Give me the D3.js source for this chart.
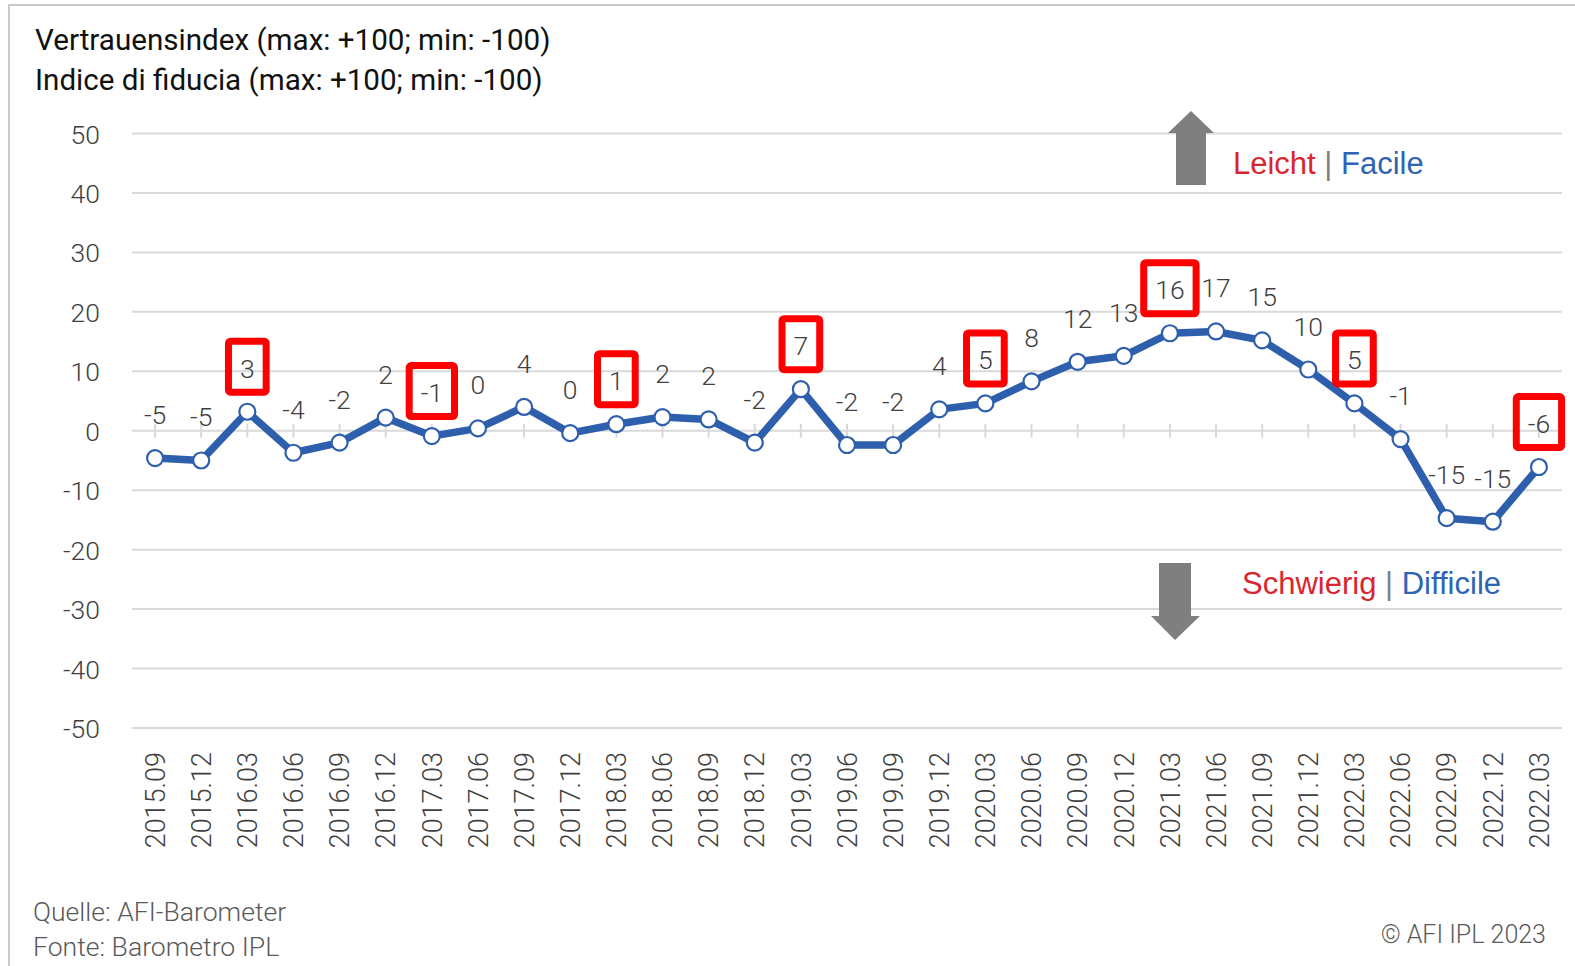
<!DOCTYPE html>
<html>
<head>
<meta charset="utf-8">
<script src="https://cdn.jsdelivr.net/npm/d3@7/dist/d3.min.js"></script>
<style>
  html, body { margin: 0; padding: 0; background: #fff; }
  svg { display: block; }
</style>
</head>
<body>
<svg id="chart" width="1575" height="966"></svg>
<script>
// ---- data ----
const categories = ["2015.09","2015.12","2016.03","2016.06","2016.09","2016.12","2017.03","2017.06","2017.09","2017.12",
  "2018.03","2018.06","2018.09","2018.12","2019.03","2019.06","2019.09","2019.12","2020.03","2020.06",
  "2020.09","2020.12","2021.03","2021.06","2021.09","2021.12","2022.03","2022.06","2022.09","2022.12","2022.03"];
const values = [-4.6, -5.0, 3.2, -3.7, -2.0, 2.2, -0.9, 0.4, 4.0, -0.4,
  1.1, 2.3, 1.9, -2.0, 7.0, -2.4, -2.4, 3.6, 4.6, 8.3,
  11.6, 12.6, 16.4, 16.7, 15.2, 10.3, 4.6, -1.4, -14.7, -15.3, -6.1];
const highlighted = [2, 6, 10, 14, 18, 22, 26, 30];
const yTicks = [50, 40, 30, 20, 10, 0, -10, -20, -30, -40, -50];
const titleLines = ["Vertrauensindex (max: +100; min: -100)", "Indice di fiducia (max: +100; min: -100)"];
const sourceLines = ["Quelle: AFI-Barometer", "Fonte: Barometro IPL"];
const copyright = "\u00A9 AFI IPL 2023";

(function () {
// ---- setup ----
const svg = d3.select("#chart");
const FONT = "Roboto, 'Noto Sans', sans-serif";
const pLeft = 132, pRight = 1562, pTop = 133.5, pBottom = 728;

const x = d3.scalePoint().domain(d3.range(categories.length)).range([pLeft, pRight]).padding(0.5);
const y = d3.scaleLinear().domain([-50, 50]).range([pBottom, pTop]);

// border
svg.append("rect").attr("x", 9).attr("y", 5).attr("width", 1600).attr("height", 1000)
  .attr("fill", "none").attr("stroke", "#c9c9c9").attr("stroke-width", 2);

// title
svg.append("g").selectAll("text").data(titleLines).join("text")
  .attr("x", 35).attr("y", (d, i) => 50 + i * 40)
  .attr("font-family", FONT).attr("font-size", 29.6).attr("fill", "#111")
  .text(d => d);

// gridlines
svg.append("g").selectAll("line").data(yTicks).join("line")
  .attr("x1", pLeft).attr("x2", pRight)
  .attr("y1", d => y(d)).attr("y2", d => y(d))
  .attr("stroke", "#d9d9d9").attr("stroke-width", 2);

// y axis labels
const yAxis = d3.axisLeft(y).tickValues(yTicks).tickSize(0).tickPadding(0).tickFormat(d => String(d));
const yg = svg.append("g").attr("transform", "translate(100,0)").call(yAxis);
yg.select(".domain").remove();
yg.selectAll("text").attr("font-family", FONT).attr("font-size", 26.5).attr("font-weight", 300)
  .attr("fill", "#404040").attr("dy", "0.36em");

// zero-line cross ticks
svg.append("g").selectAll("line").data(d3.range(categories.length)).join("line")
  .attr("x1", i => x(i)).attr("x2", i => x(i))
  .attr("y1", y(0) - 7).attr("y2", y(0) + 7)
  .attr("stroke", "#d9d9d9").attr("stroke-width", 2);

// x labels
svg.append("g").selectAll("text").data(d3.range(categories.length)).join("text")
  .attr("transform", i => `translate(${x(i)},752) rotate(-90)`)
  .attr("text-anchor", "end").attr("dy", "0.36em")
  .attr("font-family", FONT).attr("font-size", 27).attr("font-weight", 300).attr("fill", "#404040")
  .text(i => categories[i]);

// line
const line = d3.line().x((d, i) => x(i)).y(d => y(d));
svg.append("path").datum(values).attr("d", line)
  .attr("fill", "none").attr("stroke", "#2e5fac").attr("stroke-width", 7.5)
  .attr("stroke-linejoin", "round");

// markers
svg.append("g").selectAll("circle").data(values).join("circle")
  .attr("cx", (d, i) => x(i)).attr("cy", d => y(d)).attr("r", 8)
  .attr("fill", "#fff").attr("stroke", "#2e5fac").attr("stroke-width", 2.2);

// data labels
const fmt = v => String(Math.round(v)).replace("\u2212", "-");
const labels = svg.append("g").selectAll("text").data(values).join("text")
  .attr("x", (d, i) => x(i)).attr("y", d => y(d) - 34)
  .attr("text-anchor", "middle")
  .attr("font-family", FONT).attr("font-size", 26.5).attr("font-weight", 300).attr("fill", "#404040")
  .text(d => fmt(d));

// highlight boxes
const boxG = svg.append("g");
highlighted.forEach(i => {
  const node = labels.nodes()[i];
  const w = node.getComputedTextLength();
  const cy = y(values[i]) - 45;
  boxG.append("rect")
    .attr("x", x(i) - w / 2 - 11.5).attr("y", cy - 25.5)
    .attr("width", w + 23).attr("height", 51)
    .attr("rx", 2).attr("fill", "none").attr("stroke", "#ff0000").attr("stroke-width", 7);
});

// arrows
svg.append("path")
  .attr("d", "M1191,111 L1214,133 L1206,133 L1206,185 L1176,185 L1176,133 L1168,133 Z")
  .attr("fill", "#7f7f7f");
svg.append("path")
  .attr("d", "M1159,563 L1191,563 L1191,616 L1200,616 L1175,640 L1151,616 L1159,616 Z")
  .attr("fill", "#7f7f7f");

// annotations
const ann1 = svg.append("text").attr("x", 1233).attr("y", 174)
  .attr("font-family", "'Liberation Sans', Arial, sans-serif").attr("font-size", 31);
ann1.append("tspan").attr("fill", "#d9262e").text("Leicht");
ann1.append("tspan").attr("fill", "#7f7f7f").text(" | ");
ann1.append("tspan").attr("fill", "#2e64b4").text("Facile");

const ann2 = svg.append("text").attr("x", 1242).attr("y", 594)
  .attr("font-family", "'Liberation Sans', Arial, sans-serif").attr("font-size", 31);
ann2.append("tspan").attr("fill", "#d9262e").text("Schwierig");
ann2.append("tspan").attr("fill", "#7f7f7f").text(" | ");
ann2.append("tspan").attr("fill", "#2e64b4").text("Difficile");

// footer
svg.append("g").selectAll("text").data(sourceLines).join("text")
  .attr("x", 33).attr("y", (d, i) => 921 + i * 35)
  .attr("font-family", FONT).attr("font-size", 26.6).attr("font-weight", 300).attr("fill", "#595959")
  .text(d => d);
svg.append("text").attr("x", 1546).attr("y", 943).attr("text-anchor", "end")
  .attr("font-family", FONT).attr("font-size", 25).attr("font-weight", 300).attr("fill", "#595959")
  .text(copyright);
})();
</script>
</body>
</html>
